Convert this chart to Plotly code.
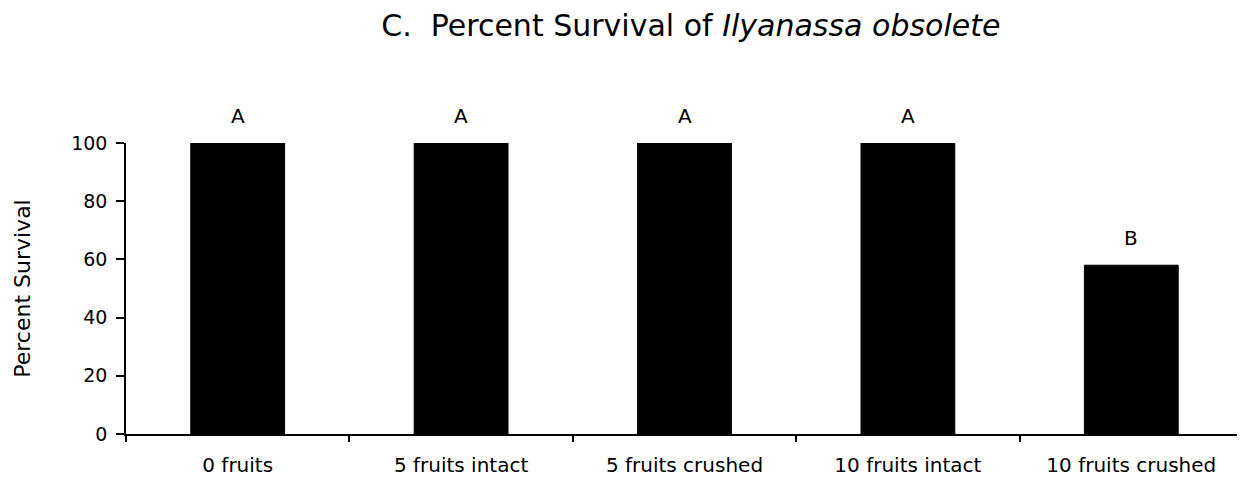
import plotly.graph_objects as go

categories = ["0 fruits", "5 fruits intact", "5 fruits crushed", "10 fruits intact", "10 fruits crushed"]
survival = [100, 100, 100, 100, 58]
letters = ["A", "A", "A", "A", "B"]

FONT = "DejaVu Sans, Liberation Sans, Arial"

fig = go.Figure()
fig.add_trace(go.Bar(x=categories, y=survival, marker=dict(color="black", line=dict(color="black", width=1)),
                     width=0.42, showlegend=False))

for c, v, l in zip(categories, survival, letters):
    fig.add_annotation(x=c, y=v, text=l, showarrow=False, yanchor="bottom", yshift=13,
                       font=dict(family=FONT, size=20, color="black"))

fig.update_layout(
    width=1237, height=472,
    margin=dict(l=118, r=2, t=135, b=46),
    paper_bgcolor="white", plot_bgcolor="white",
    font=dict(family=FONT, size=20, color="black"),
    title=dict(text="C.  Percent Survival of <i>Ilyanassa obsolete</i>", x=0.552, xanchor="center",
               y=0.964, yanchor="middle", font=dict(size=30, color="black")),
    xaxis=dict(showline=True, linecolor="black", linewidth=1.5, ticks="outside", tickson="boundaries",
               ticklen=6, tickcolor="black", tickwidth=1.5, showgrid=False, tickfont=dict(size=20),
               ticklabelstandoff=12),
    yaxis=dict(range=[0, 100], tickvals=[0, 20, 40, 60, 80, 100], showline=True, linecolor="black",
               linewidth=1.5, ticks="outside", ticklen=8, tickcolor="black", tickwidth=1.5,
               showgrid=False, zeroline=False, tickfont=dict(size=19), ticklabelstandoff=5,
               title=dict(text="Percent Survival", font=dict(size=22), standoff=34)),
)

fig.write_html("out.html")
